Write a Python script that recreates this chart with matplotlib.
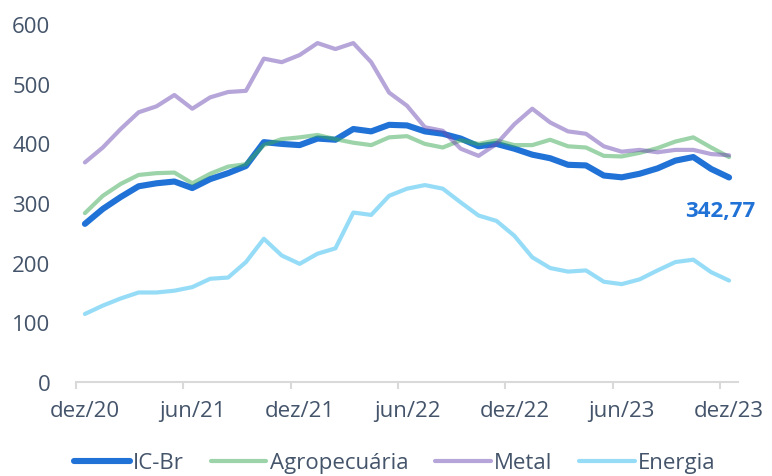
import matplotlib
matplotlib.use("Agg")
import matplotlib.pyplot as plt
import numpy as np

# dados mensais dez/20 .. dez/23 (37 meses)
ic_br = [265, 290, 310, 328, 333, 336, 325, 340, 350, 362, 402, 399, 397, 408, 406, 424,
         420, 431, 430, 420, 416, 408, 395, 399, 391, 381, 375, 364, 363, 346, 343, 349,
         358, 371, 377, 357, 342.77]
agropecuaria = [283, 312, 332, 347, 350, 351, 333, 349, 361, 365, 397, 407, 410, 414, 407, 401,
                397, 410, 412, 399, 393, 405, 399, 405, 397, 397, 406, 395, 393, 379, 378, 384,
                392, 403, 410, 393, 377]
metal = [368, 393, 424, 452, 462, 481, 458, 477, 486, 488, 542, 536, 548, 568, 558, 568,
         536, 485, 463, 427, 421, 391, 379, 399, 432, 458, 435, 420, 416, 395, 386, 389,
         385, 389, 389, 382, 380]
energia = [114, 128, 140, 150, 150, 153, 159, 173, 175, 201, 240, 212, 198, 215, 224, 284,
           280, 312, 324, 330, 324, 301, 279, 270, 245, 209, 191, 185, 187, 168, 164, 172,
           187, 201, 205, 184, 170]
tick_labels = ["dez/20", "jun/21", "dez/21", "jun/22", "dez/22", "jun/23", "dez/23"]
y_ticks = [0, 100, 200, 300, 400, 500, 600]
last_label = "342,77"

TEXT = "#44546A"
AXIS = "#D9D9D9"

plt.rcParams["font.family"] = ["Open Sans", "DejaVu Sans"]

x = np.arange(len(ic_br))

fig = plt.figure(figsize=(7.72, 4.77), dpi=100)
ax = fig.add_axes([0.0984, 0.1971, 0.8576, 0.7505])

ax.plot(x, ic_br, color="#2172D6", lw=4.4, solid_capstyle="round",
        solid_joinstyle="round", label="IC-Br", zorder=2)
ax.plot(x, agropecuaria, color="#3AA853", alpha=0.5, lw=3.0, solid_capstyle="round",
        solid_joinstyle="round", label="Agropecuária", zorder=3)
ax.plot(x, metal, color="#6F4DB3", alpha=0.5, lw=3.0, solid_capstyle="round",
        solid_joinstyle="round", label="Metal", zorder=3)
ax.plot(x, energia, color="#2FBBF1", alpha=0.5, lw=3.0, solid_capstyle="round",
        solid_joinstyle="round", label="Energia", zorder=3)

ax.text(x[-1] - 0.5, 288, last_label, color="#2172D6", fontsize=16, fontweight="bold",
        ha="center", va="center")

ax.set_xlim(-0.5, len(x) - 0.5)
ax.set_ylim(0, 600)
ax.set_yticks(y_ticks)
ax.set_xticks(x[::6])
ax.set_xticklabels(tick_labels)
ax.set_xticks(x[::6] - 0.5, minor=True)

for s in ["top", "right", "left"]:
    ax.spines[s].set_visible(False)
ax.spines["bottom"].set_color(AXIS)
ax.spines["bottom"].set_linewidth(1.5)

ax.tick_params(axis="y", length=0, pad=18.5, labelsize=16, labelcolor=TEXT)
ax.tick_params(axis="x", which="major", length=0, pad=13, labelsize=16, labelcolor=TEXT)
ax.tick_params(axis="x", which="minor", length=5, width=1.5, color=AXIS)

leg = fig.legend(loc="center", bbox_to_anchor=(395 / 772, 1 - 464 / 477), ncol=4,
                 frameon=False, fontsize=16, handlelength=2.5, handletextpad=0.15,
                 columnspacing=1.2)
for t in leg.get_texts():
    t.set_color(TEXT)

fig.savefig("out.png", dpi=100, facecolor="white")
